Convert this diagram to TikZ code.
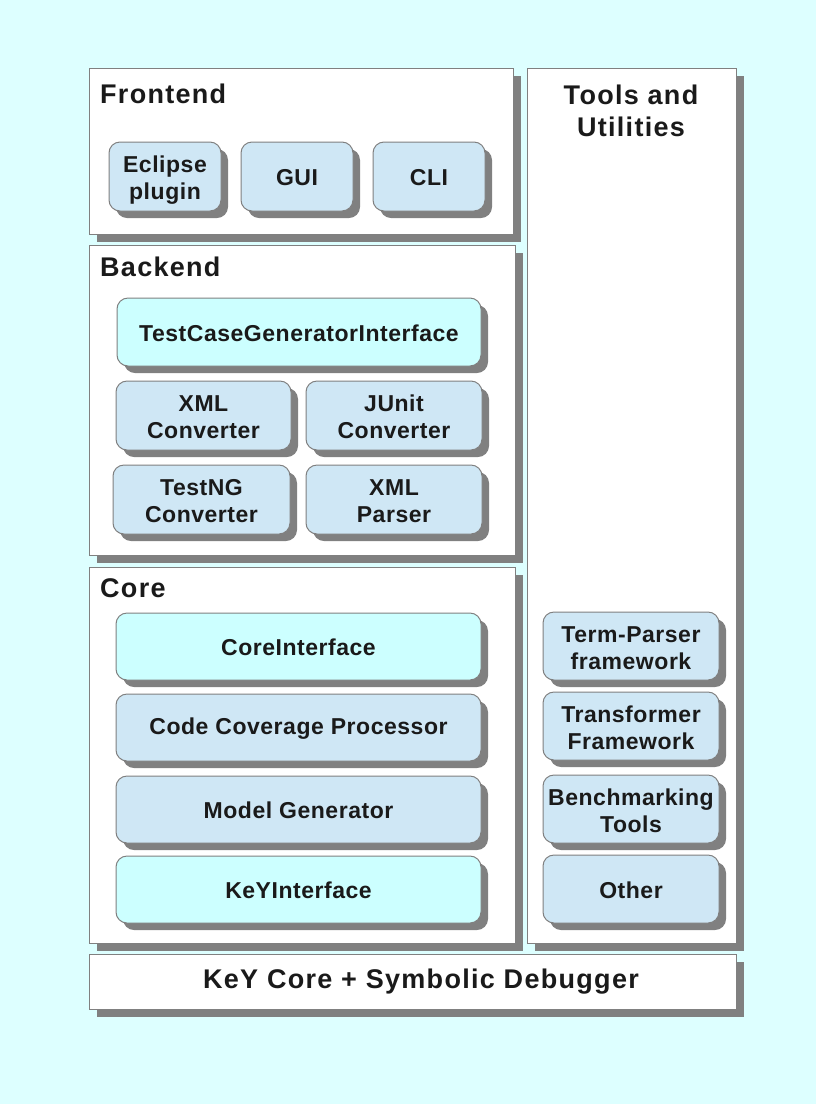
\documentclass[tikz,border=0pt]{standalone}
\usepackage{fontspec}
\setmainfont{Liberation Sans}
\newfontfamily\headfont[LetterSpace=4.8]{Liberation Sans}
\newfontfamily\boxfont[LetterSpace=2.3]{Liberation Sans}
\usetikzlibrary{shadows}
\definecolor{bgc}{HTML}{DDFFFF}
\definecolor{boxc}{HTML}{CFE7F5}
\definecolor{cyanc}{HTML}{CCFFFF}
\definecolor{edgec}{HTML}{808080}
\definecolor{shadc}{HTML}{808080}
\definecolor{txtc}{HTML}{1A1A1A}
\tikzset{
  bigbox/.style={draw=edgec, line width=1pt, fill=white, inner sep=0pt, outer sep=0pt,
    drop shadow={shadow xshift=8pt, shadow yshift=-8pt, fill=shadc, opacity=1}},
  smallbox/.style={draw=edgec, line width=1pt, fill=boxc, rounded corners=11pt, inner sep=0pt, outer sep=0pt,
    align=center, text=txtc, font=\boxfont\bfseries\fontsize{23}{27}\selectfont,
    execute at begin node={\rule{0pt}{19pt}},
    drop shadow={shadow xshift=7pt, shadow yshift=-7pt, fill=shadc, opacity=1}},
  twoline/.style={text height=46.5pt, text depth=0pt},
  ifbox/.style={smallbox, fill=cyanc},
  heading/.style={text=txtc, font=\headfont\bfseries\fontsize{27}{32}\selectfont, inner sep=0pt, align=center},
}
\begin{document}
\begin{tikzpicture}[x=1pt,y=-1pt]
\useasboundingbox[fill=bgc] (0,0) rectangle (816,1104);
% big containers
\node[bigbox, minimum width=424pt, minimum height=166pt] (front) at (301,151) {};
\node[bigbox, minimum width=426pt, minimum height=310pt] (back) at (302,400) {};
\node[bigbox, minimum width=426pt, minimum height=376pt] (core) at (302,755) {};
\node[bigbox, minimum width=209pt, minimum height=875pt] (tools) at (631.5,505.5) {};
\node[bigbox, minimum width=647pt, minimum height=55pt] (base) at (412.5,981.5) {};
% headings
\node[heading, anchor=west] (frontlbl) at (100,93.5) {Frontend};
\node[heading, anchor=west] (backlbl) at (100,266.5) {Backend};
\node[heading, anchor=west] (corelbl) at (100,588.5) {Core};
\node[heading] (toolslbl) at (631,111) {Tools and\\Utilities};
\node[heading] (baselbl) at (421,981.5) {KeY Core + Symbolic Debugger};
% frontend
\node[smallbox, twoline, minimum width=112pt, minimum height=69pt] (eclipse) at (165,176.5) {Eclipse\\plugin};
\node[smallbox, minimum width=112pt, minimum height=69pt] (gui) at (297,176.5) {GUI};
\node[smallbox, minimum width=112pt, minimum height=69pt] (cli) at (429,176.5) {CLI};
% backend
\node[ifbox, minimum width=364pt, minimum height=68pt] (tcgi) at (299,332) {TestCaseGeneratorInterface};
\node[smallbox, twoline, minimum width=175pt, minimum height=69pt] (xmlc) at (203.5,415.5) {XML\\Converter};
\node[smallbox, twoline, minimum width=176pt, minimum height=69pt] (junit) at (394,415.5) {JUnit\\Converter};
\node[smallbox, twoline, minimum width=177pt, minimum height=69pt] (testng) at (201.5,499.5) {TestNG\\Converter};
\node[smallbox, twoline, minimum width=176pt, minimum height=69pt] (xmlp) at (394,499.5) {XML\\Parser};
% core
\node[ifbox, minimum width=365pt, minimum height=67pt] (coreif) at (298.5,646.5) {CoreInterface};
\node[smallbox, minimum width=365pt, minimum height=67pt] (ccp) at (298.5,727.5) {Code Coverage Processor};
\node[smallbox, minimum width=365pt, minimum height=67pt] (mg) at (298.5,809.5) {Model Generator};
\node[ifbox, minimum width=365pt, minimum height=67pt] (keyif) at (298.5,889.5) {KeYInterface};
% tools
\node[smallbox, twoline, minimum width=176pt, minimum height=68pt] (term) at (631,646) {Term-Parser\\framework};
\node[smallbox, twoline, minimum width=176pt, minimum height=68pt] (trans) at (631,726) {Transformer\\Framework};
\node[smallbox, twoline, minimum width=176pt, minimum height=68pt] (bench) at (631,809) {Benchmarking\\Tools};
\node[smallbox, minimum width=176pt, minimum height=68pt] (other) at (631,889) {Other};
\end{tikzpicture}
\end{document}
